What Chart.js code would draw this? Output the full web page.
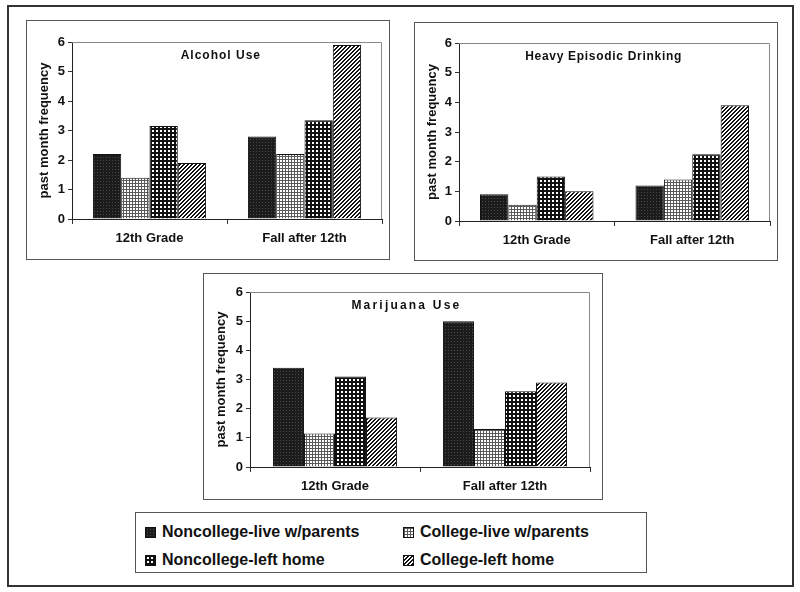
<!DOCTYPE html>
<html>
<head>
<meta charset="utf-8">
<script src="https://cdn.jsdelivr.net/npm/chart.js@4.4.0/dist/chart.umd.min.js"></script>
<style>
  body { margin: 0; background: #fff; font-family: "Liberation Sans", Arial, sans-serif; }
  .frame { position: absolute; left: 7px; top: 5px; width: 783px; height: 578px; border: 2px solid #333; }
  .panel { position: absolute; border: 1px solid #555; background: #fff; }
  .panel canvas { display: block; }
  #legend { position: absolute; left: 135px; top: 512px; width: 510px; height: 59px; border: 1px solid #555; }
  .item { position: absolute; font-weight: bold; font-size: 16px; color: #111; line-height: 18px; white-space: nowrap; }
  .item canvas { position: absolute; left: 0; top: 4px; border: 1px solid #111; }
  .item span { position: absolute; left: 17px; top: 0; }
</style>
</head>
<body>
<div class="frame"></div>
<div class="panel" id="p0" style="left:26px; top:20px;"><canvas id="c0"></canvas></div>
<div class="panel" id="p1" style="left:414px; top:22px;"><canvas id="c1"></canvas></div>
<div class="panel" id="p2" style="left:203px; top:273px;"><canvas id="c2"></canvas></div>
<div id="legend"></div>

<script>
// data
const categories = ['12th Grade', 'Fall after 12th'];
const seriesNames = ['Noncollege-live w/parents', 'College-live w/parents', 'Noncollege-left home', 'College-left home'];
const panelTitles = ['Alcohol Use', 'Heavy Episodic Drinking', 'Marijuana Use'];
const yTicks = [0, 1, 2, 3, 4, 5, 6];

// one row per series: [12th Grade, Fall after 12th]
const alcoholValues = [[2.2, 2.8], [1.4, 2.2], [3.15, 3.35], [1.9, 5.9]];
const heavyValues = [[0.9, 1.2], [0.55, 1.4], [1.5, 2.25], [1.0, 3.9]];
const marijuanaValues = [[3.4, 5.0], [1.15, 1.3], [3.1, 2.6], [1.7, 2.9]];

// layout of each panel (canvas size, axis sizes, padding)
const panelLayout = [
  { w: 362, h: 238, yw: 45, xh: 40, top: 21, right: 7, titleX: 0.48, spacing: 1 },
  { w: 362, h: 237, yw: 44, xh: 39, top: 20, right: 7, titleX: 0.465, spacing: 0.7 },
  { w: 398, h: 225, yw: 46, xh: 32, top: 18, right: 12, titleX: 0.46, spacing: 2.2 }
];

// fill patterns
function makeTile(size, draw) {
  const c = document.createElement('canvas');
  c.width = size; c.height = size;
  const g = c.getContext('2d');
  draw(g);
  return c;
}
const tiles = [
  makeTile(3, g => { g.fillStyle = '#1c1c1c'; g.fillRect(0, 0, 3, 3); g.fillStyle = '#4a4a4a'; g.fillRect(1, 1, 1, 1); }),
  makeTile(3, g => { g.fillStyle = '#fff'; g.fillRect(0, 0, 3, 3); g.fillStyle = '#5a5a5a'; g.fillRect(0, 0, 3, 1); g.fillRect(0, 0, 1, 3); }),
  makeTile(4, g => { g.fillStyle = '#111'; g.fillRect(0, 0, 4, 4); g.fillStyle = '#fff'; g.fillRect(1, 1, 2, 2); }),
  makeTile(4, g => {
    g.fillStyle = '#fff'; g.fillRect(0, 0, 4, 4); g.fillStyle = '#111';
    for (let i = 0; i < 4; i++) { g.fillRect(i, 3 - i, 1, 1); g.fillRect(i, (4 - i) % 4, 1, 1); }
  })
];
const patternCtx = document.createElement('canvas').getContext('2d');
const patterns = tiles.map(t => patternCtx.createPattern(t, 'repeat'));

// title inside plot + gray frame on top/right
const plotExtras = {
  id: 'plotExtras',
  afterDatasetsDraw(chart, args, opts) {
    const a = chart.chartArea;
    const ctx = chart.ctx;
    ctx.save();
    ctx.strokeStyle = '#888';
    ctx.lineWidth = 1;
    ctx.beginPath();
    ctx.moveTo(a.left, a.top + 0.5);
    ctx.lineTo(a.right - 0.5, a.top + 0.5);
    ctx.lineTo(a.right - 0.5, a.bottom);
    ctx.stroke();
    ctx.fillStyle = '#111';
    ctx.font = 'bold 12px "Liberation Sans", Arial, sans-serif';
    ctx.letterSpacing = opts.spacing + 'px';
    ctx.textAlign = 'center';
    ctx.textBaseline = 'middle';
    ctx.fillText(opts.text, a.left + (a.right - a.left) * opts.x, a.top + 13.5);
    ctx.restore();
  }
};

const tickFont = { family: '"Liberation Sans", Arial, sans-serif', size: 13, weight: 'bold' };

function drawPanel(idx, values) {
  const L = panelLayout[idx];
  const canvas = document.getElementById('c' + idx);
  canvas.width = L.w; canvas.height = L.h;
  canvas.style.width = L.w + 'px'; canvas.style.height = L.h + 'px';

  new Chart(canvas.getContext('2d'), {
    type: 'bar',
    data: {
      labels: categories,
      datasets: seriesNames.map((name, i) => ({
        label: name,
        data: values[i],
        backgroundColor: patterns[i],
        borderColor: '#111',
        borderWidth: 1,
        borderSkipped: 'bottom',
        barPercentage: 1,
        categoryPercentage: 0.73
      }))
    },
    options: {
      responsive: false,
      animation: false,
      devicePixelRatio: 1,
      layout: { padding: { top: L.top, right: L.right, left: 0, bottom: 0 } },
      plugins: {
        legend: { display: false },
        tooltip: { enabled: false },
        plotExtras: { text: panelTitles[idx], x: L.titleX, spacing: L.spacing }
      },
      scales: {
        x: {
          afterFit: s => { s.height = L.xh; },
          grid: { drawOnChartArea: false, tickLength: 5, color: '#333', offset: true },
          border: { color: '#222', width: 1 },
          ticks: { color: '#111', font: tickFont, padding: 7, maxRotation: 0 }
        },
        y: {
          min: 0,
          max: 6,
          afterFit: s => { s.width = L.yw; },
          afterBuildTicks: s => { s.ticks = yTicks.map(v => ({ value: v })); },
          grid: { drawOnChartArea: false, tickLength: 4, color: '#333' },
          border: { color: '#222', width: 1 },
          ticks: { color: '#111', font: tickFont, padding: 3 },
          title: {
            display: true,
            text: 'past month frequency',
            color: '#111',
            font: tickFont,
            padding: { top: 10, bottom: 0 }
          }
        }
      }
    },
    plugins: [plotExtras]
  });
}

drawPanel(0, alcoholValues);
drawPanel(1, heavyValues);
drawPanel(2, marijuanaValues);

// legend
const legendPos = [[9, 10], [267, 10], [9, 38], [267, 38]];
const legend = document.getElementById('legend');
seriesNames.forEach((name, i) => {
  const item = document.createElement('div');
  item.className = 'item';
  item.style.left = legendPos[i][0] + 'px';
  item.style.top = legendPos[i][1] + 'px';
  const sw = document.createElement('canvas');
  sw.width = 9; sw.height = 9;
  const g = sw.getContext('2d');
  g.fillStyle = g.createPattern(tiles[i], 'repeat');
  g.fillRect(0, 0, 9, 9);
  const label = document.createElement('span');
  label.textContent = name;
  item.appendChild(sw);
  item.appendChild(label);
  legend.appendChild(item);
});
</script>
</body>
</html>
